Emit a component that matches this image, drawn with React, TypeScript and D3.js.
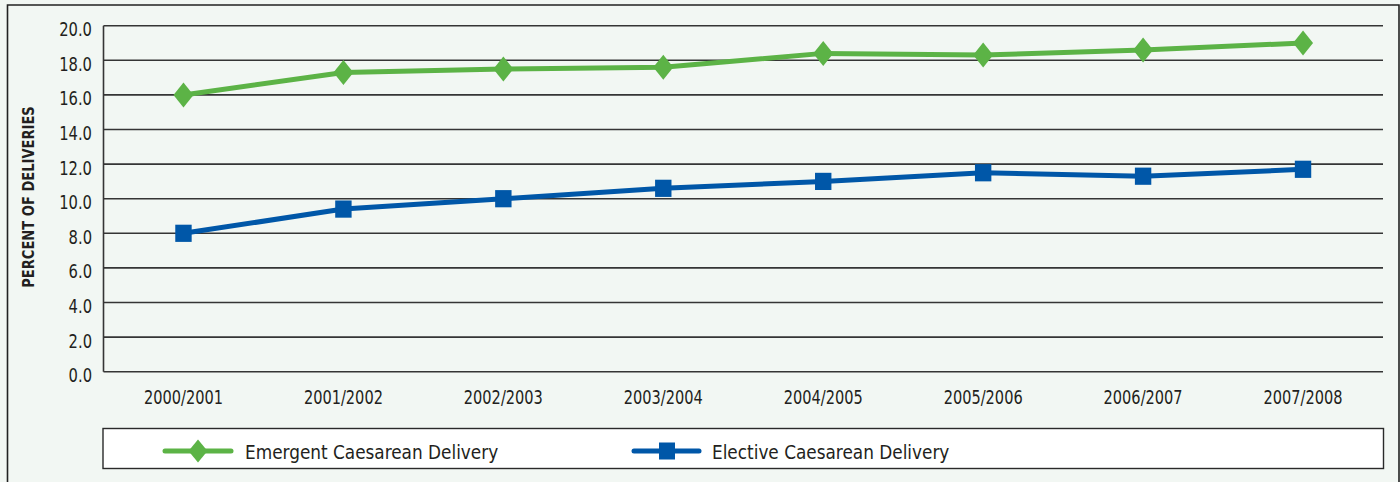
import React from "react";
import * as d3 from "d3";

// Fiscal years along the x axis
const years = [
  "2000/2001",
  "2001/2002",
  "2002/2003",
  "2003/2004",
  "2004/2005",
  "2005/2006",
  "2006/2007",
  "2007/2008",
];

// Percent of deliveries by caesarean type
const emergent = [16.0, 17.3, 17.5, 17.6, 18.4, 18.3, 18.6, 19.0];
const elective = [8.0, 9.4, 10.0, 10.6, 11.0, 11.5, 11.3, 11.7];

const yTicks = [0, 2, 4, 6, 8, 10, 12, 14, 16, 18, 20];

const seriesNames = ["Emergent Caesarean Delivery", "Elective Caesarean Delivery"];

const W = 1400;
const H = 482;
const FONT = "'DejaVu Sans Condensed', 'Liberation Sans Narrow', 'Arial Narrow', sans-serif";
const TEXT = "#231f20";
const GREEN = "#5cb346";
const BLUE = "#0057a8";
const BG = "#f2f7f3";

const plot = { left: 103.5, right: 1383, top: 25.7, bottom: 371.7 };

// Text squeezed horizontally to get a narrow, condensed face
function NarrowText(props: {
  x: number;
  y: number;
  sx: number;
  size: number;
  anchor?: "start" | "middle" | "end";
  weight?: string;
  children: React.ReactNode;
}) {
  const { x, y, sx, size, anchor = "start", weight = "normal", children } = props;
  return (
    <text
      transform={`translate(${x},${y}) scale(${sx},1)`}
      textAnchor={anchor}
      fontSize={size}
      fontWeight={weight}
      fill={TEXT}
    >
      {children}
    </text>
  );
}

export default function App() {
  const x = d3.scaleBand<string>().domain(years).range([plot.left, plot.right]).paddingInner(0).paddingOuter(0);
  const cx = (c: string) => (x(c) as number) + x.bandwidth() / 2;
  const y = d3.scaleLinear().domain([0, 20]).range([plot.bottom, plot.top]);
  const fmt = d3.format(".1f");

  const line = d3
    .line<number>()
    .x((_, i) => cx(years[i]))
    .y((v) => y(v));

  const diamond = (px: number, py: number, hw: number, hh: number) =>
    `M${px},${py - hh}L${px + hw},${py}L${px},${py + hh}L${px - hw},${py}Z`;

  const legendY = 451;

  return (
    <div style={{ position: "absolute", left: 0, top: 0, width: W, height: H }}>
      <svg width={W} height={H} style={{ display: "block" }} fontFamily={FONT}>
        <rect x={0} y={0} width={W} height={H} fill={BG} />
        {/* outer frame */}
        <path d={`M7.5,${H + 2}V5H1399V${H + 2}`} fill="none" stroke="#222" strokeWidth={1.6} />

        {/* horizontal gridlines */}
        {yTicks.map((t) => (
          <line
            key={t}
            x1={plot.left}
            x2={plot.right}
            y1={y(t)}
            y2={y(t)}
            stroke="#353535"
            strokeWidth={1.6}
          />
        ))}
        {/* left axis line */}
        <line x1={plot.left} x2={plot.left} y1={plot.top} y2={plot.bottom} stroke="#353535" strokeWidth={1.6} />

        {/* y tick labels */}
        {yTicks.map((t) => (
          <NarrowText key={t} x={92} y={y(t) + 10.5} sx={0.82} size={20} anchor="end">
            {fmt(t)}
          </NarrowText>
        ))}

        {/* y axis title */}
        <text
          transform={`translate(33.5,197) rotate(-90) scale(0.97,1)`}
          textAnchor="middle"
          fontSize={15}
          fontWeight="bold"
          fill={TEXT}
        >
          PERCENT OF DELIVERIES
        </text>

        {/* x tick labels */}
        {years.map((c) => (
          <NarrowText key={c} x={cx(c)} y={404} sx={0.81} size={20} anchor="middle">
            {c}
          </NarrowText>
        ))}

        {/* emergent series */}
        <path d={line(emergent) as string} fill="none" stroke={GREEN} strokeWidth={5} strokeLinejoin="round" />
        {emergent.map((v, i) => (
          <path key={i} d={diamond(cx(years[i]), y(v), 10, 12.5)} fill={GREEN} />
        ))}

        {/* elective series */}
        <path d={line(elective) as string} fill="none" stroke={BLUE} strokeWidth={5} strokeLinejoin="round" />
        {elective.map((v, i) => (
          <rect key={i} x={cx(years[i]) - 8.2} y={y(v) - 8.6} width={16.4} height={17.2} fill={BLUE} />
        ))}

        {/* legend */}
        <rect x={103} y={428.5} width={1280.5} height={40} fill="#ffffff" stroke="#2a2a2a" strokeWidth={1.4} />
        <line x1={165} x2={231} y1={legendY} y2={legendY} stroke={GREEN} strokeWidth={5} strokeLinecap="round" />
        <path d={diamond(198, legendY, 9.5, 11.5)} fill={GREEN} />
        <NarrowText x={245} y={legendY + 7.5} sx={0.94} size={20}>
          {seriesNames[0]}
        </NarrowText>
        <line x1={634} x2={699} y1={legendY} y2={legendY} stroke={BLUE} strokeWidth={5} strokeLinecap="round" />
        <rect x={667 - 8} y={legendY - 8.5} width={16} height={17} fill={BLUE} />
        <NarrowText x={712} y={legendY + 7.5} sx={0.94} size={20}>
          {seriesNames[1]}
        </NarrowText>
      </svg>
    </div>
  );
}
